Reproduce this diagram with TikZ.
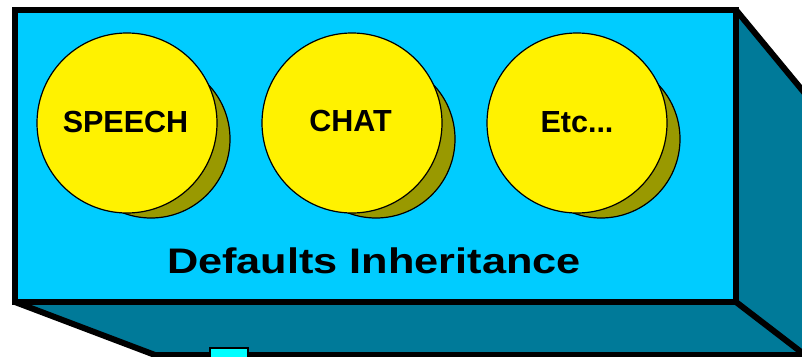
\documentclass[tikz,border=0pt]{standalone}
\usepackage{fontspec}
\setmainfont{Liberation Sans}
\definecolor{frontc}{RGB}{0,204,255}
\definecolor{sidec}{RGB}{0,122,153}
\definecolor{shadc}{RGB}{153,153,0}
\definecolor{stubc}{RGB}{0,255,255}
\begin{document}
\begin{tikzpicture}[x=1pt,y=-1pt,
  edge/.style={line width=6pt, line join=miter},
  disc/.style={circle, draw=black, line width=1.2pt, fill=yellow, minimum size=180pt, inner sep=0pt},
  discshadow/.style={circle, draw=black, line width=1.2pt, fill=shadc, minimum size=158pt, inner sep=0pt},
  lbl/.style={font=\bfseries\fontsize{30.5}{30.5}\selectfont, anchor=base, inner sep=0pt},
  title/.style={font=\bfseries\fontsize{35.5}{35.5}\selectfont, anchor=base, inner sep=0pt, xscale=1.22},
  stubbox/.style={draw=black, line width=1.5pt, fill=stubc}
]
\useasboundingbox (0,0) rectangle (802,356);
\clip (0,0) rectangle (802,356);
% box corners
\coordinate (ftl) at (15,10);
\coordinate (ftr) at (736,10);
\coordinate (fbr) at (736,302);
\coordinate (fbl) at (15,302);
\coordinate (btr) at (805,93.5);
\coordinate (bbr) at (805,355);
\coordinate (bbl) at (155,355);
% side and bottom faces
\fill[sidec] (ftl) -- (ftr) -- (btr) -- (bbr) -- (bbl) -- (fbl) -- cycle;
\draw[edge] (ftr) -- (btr);
\draw[edge] (fbl) -- (bbl) -- (bbr);
\draw[edge] (fbr) -- (bbr);
% front face
\draw[edge, fill=frontc] (ftl) rectangle (fbr);
% stub at the bottom
\draw[stubbox] (210,348) rectangle (248,362);
% discs
\node[discshadow] (s1) at (151,139) {};
\node[discshadow] (s2) at (376,139) {};
\node[discshadow] (s3) at (601,139) {};
\node[disc] (c1) at (127,123) {};
\node[disc] (c2) at (352,123) {};
\node[disc] (c3) at (577,123) {};
\node[lbl] (t1) at (125.5,132) {SPEECH};
\node[lbl] (t2) at (350.5,131.5) {CHAT};
\node[lbl] (t3) at (577,132) {Etc...};
\node[title] (tt) at (374,273) {Defaults Inheritance};
\end{tikzpicture}
\end{document}
